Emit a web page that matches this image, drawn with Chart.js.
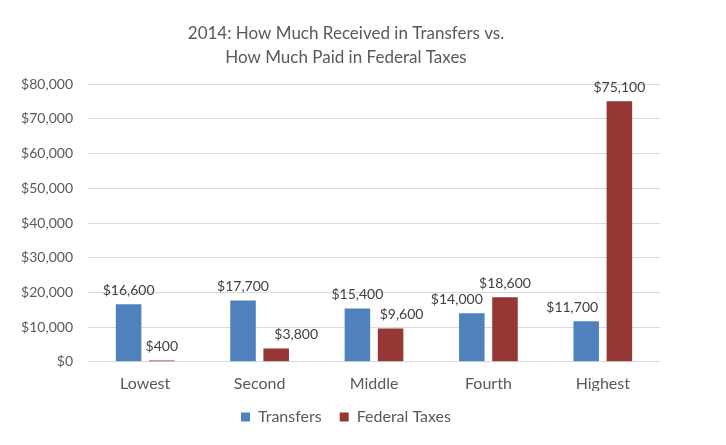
<!DOCTYPE html>
<html>

<head>
    <title>Transfers vs Federal Taxes</title>
    <script src="https://cdn.jsdelivr.net/npm/chart.js@4/dist/chart.umd.min.js"></script>
    <style>
        html, body { margin: 0; padding: 0; background: #fff; }
        #wrap { width: 726px; height: 445px; }
    </style>
</head>

<body>
    <div id="wrap"><canvas id="myChart"></canvas></div>
</body>
<script>
    // data
    const categories = ['Lowest', 'Second', 'Middle', 'Fourth', 'Highest'];
    const transfers = [16600, 17700, 15400, 14000, 11700];
    const federalTaxes = [400, 3800, 9600, 18600, 75100];
    const titleLines = ['2014: How Much Received in Transfers vs.', 'How Much Paid in Federal Taxes'];

    const textColor = '#595959';
    const fontName = 'Lato, "Open Sans", sans-serif';

    function money(v) {
        return '$' + v.toLocaleString('en-US');
    }

    // a few value labels were nudged sideways in the original so they don't collide
    const labelNudge = [[0, 0, 0, -15, -14], [0, 20, 11, 0, 0]];

    // draw the value above each bar
    const valueLabels = {
        id: 'valueLabels',
        afterDatasetsDraw(chart) {
            const ctx = chart.ctx;
            ctx.save();
            ctx.font = '14px ' + fontName;
            ctx.fillStyle = '#404040';
            ctx.textAlign = 'center';
            ctx.textBaseline = 'bottom';
            chart.data.datasets.forEach((ds, i) => {
                chart.getDatasetMeta(i).data.forEach((bar, j) => {
                    ctx.fillText(money(ds.data[j]), bar.x + labelNudge[i][j], bar.y - 7);
                });
            });
            ctx.restore();
        }
    };

    // title and legend sit a bit right of the canvas centre, like the original
    const shiftBlocks = {
        id: 'shiftBlocks',
        afterLayout(chart) {
            if (chart.legend) chart.legend.left += 32;
            if (chart.titleBlock) chart.titleBlock.left += 32;
        }
    };

    const canvas = document.getElementById('myChart');

    const myChart = new Chart(canvas, {
        type: 'bar',
        data: {
            labels: categories,
            datasets: [{
                label: 'Transfers',
                data: transfers,
                backgroundColor: '#4F81BD',
                categoryPercentage: 0.58,
                barPercentage: 0.77
            }, {
                label: 'Federal Taxes',
                data: federalTaxes,
                backgroundColor: '#953735',
                categoryPercentage: 0.58,
                barPercentage: 0.77
            }]
        },
        options: {
            responsive: true,
            maintainAspectRatio: false,
            animation: false,
            layout: {
                padding: { left: 0, right: 66, top: 0, bottom: 10 }
            },
            plugins: {
                title: {
                    display: true,
                    text: titleLines,
                    color: textColor,
                    font: { family: fontName, size: 17, weight: 'normal', lineHeight: 1.42 },
                    padding: { top: 21, bottom: 15 }
                },
                legend: {
                    position: 'bottom',
                    labels: {
                        color: textColor,
                        font: { family: fontName, size: 16 },
                        boxWidth: 9,
                        boxHeight: 9,
                        padding: 18
                    }
                },
                tooltip: { enabled: false }
            },
            scales: {
                x: {
                    afterFit(scale) { scale.height -= 14; },
                    grid: { display: false, drawTicks: false },
                    border: { display: false },
                    ticks: {
                        color: textColor,
                        font: { family: fontName, size: 16 },
                        padding: 12
                    }
                },
                y: {
                    min: 0,
                    max: 80000,
                    afterFit(scale) { scale.width = 88; },
                    grid: { color: '#d9d9d9', drawTicks: false },
                    border: { display: false },
                    ticks: {
                        stepSize: 10000,
                        color: textColor,
                        font: { family: fontName, size: 14 },
                        padding: 15,
                        callback: (v) => money(v)
                    }
                }
            }
        },
        plugins: [valueLabels, shiftBlocks]
    });
</script>

</html>
